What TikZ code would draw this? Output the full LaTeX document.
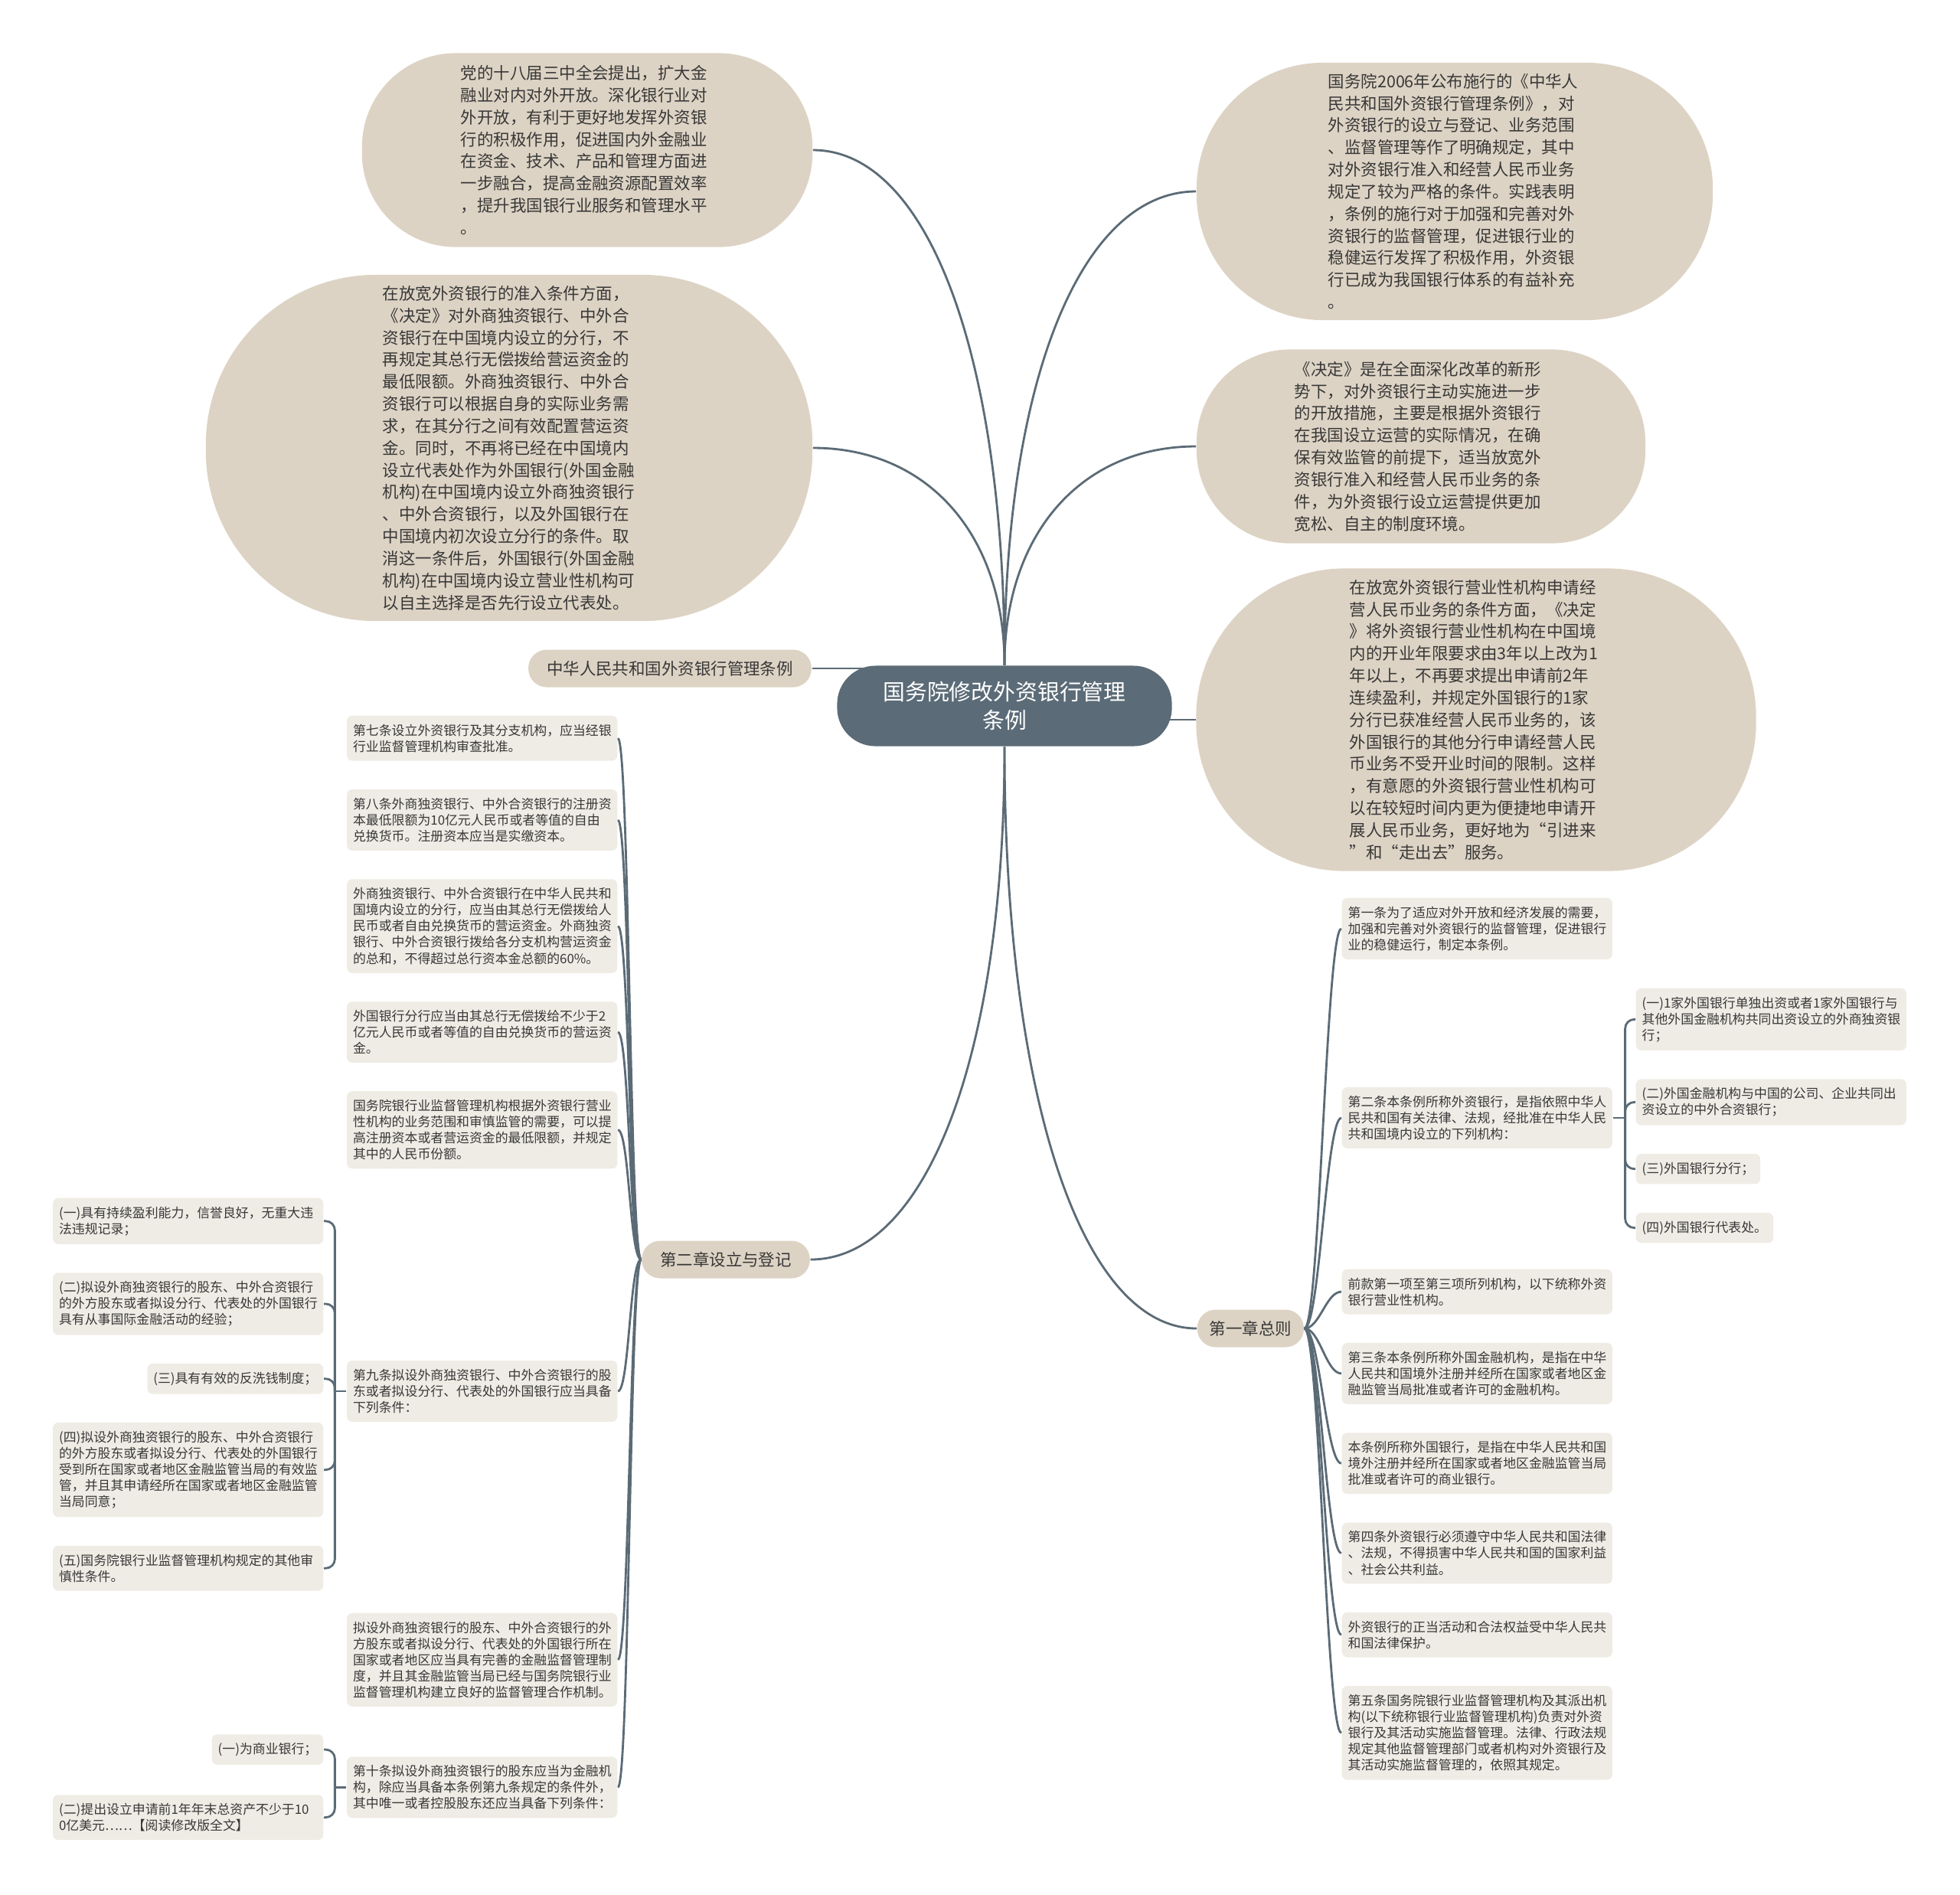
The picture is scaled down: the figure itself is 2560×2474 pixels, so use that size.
\documentclass[tikz,border=0pt]{standalone}
\usepackage{fontspec}
\setmainfont{Noto Sans CJK SC}
\usepackage{tikz}
\usetikzlibrary{positioning, calc, backgrounds}
\definecolor{hubbg}{HTML}{5B6B77}
\definecolor{bubblebg}{HTML}{DDD3C4}
\definecolor{leafbg}{HTML}{EFECE5}
\definecolor{wirec}{HTML}{5B6B76}
\definecolor{ink}{HTML}{383838}
\tikzset{
    hub/.style={rectangle, fill=hubbg, text=white, align=center, rounded corners=0.5cm, minimum width=4.37cm, minimum height=1.05cm, font=\fontsize{8.2pt}{10.7pt}\selectfont},
    bubble/.style={rectangle, fill=bubblebg, text=ink, align=left, text width=3.3cm, inner sep=0pt, font=\fontsize{6.1pt}{8.2pt}\selectfont},
    topic/.style={rectangle, fill=bubblebg, text=ink, rounded corners=0.24cm, inner xsep=0.24cm, inner ysep=0pt, minimum height=0.49cm, font=\fontsize{6.1pt}{8.2pt}\selectfont},
    leaf/.style={rectangle, fill=leafbg, text=ink, align=left, rounded corners=0.07cm, inner xsep=0.08cm, inner ysep=0.11cm, font=\fontsize{4.8pt}{6pt}\selectfont},
    fullw/.style={text width=3.37cm},
    wire/.style={draw=wirec, line width=0.8pt},
    bough/.style={to path={.. controls ($(\tikztostart)!0.6!(\tikztostart |- \tikztotarget)$) and ($(\tikztotarget)!0.6!(\tikztostart |- \tikztotarget)$) .. (\tikztotarget)}},
    twigl/.style={out=180, in=0, distance=0.15cm},
    twigr/.style={out=0, in=180, distance=0.2cm}
}

\begin{document}
\begin{tikzpicture}[x=0.01cm, y=-0.01cm]
    \useasboundingbox (0,0) rectangle (2560,2474);

    % Central topic
    \node [hub] (root) at (1312,922) {国务院修改外资银行管理\\条例};

    % Bubbles
    \node [bubble, minimum width=5.88cm, minimum height=2.53cm, rounded corners=1.22cm] (tl1) at (767,196) {党的十八届三中全会提出，扩大金\\融业对内对外开放。深化银行业对\\外开放，有利于更好地发挥外资银\\行的积极作用，促进国内外金融业\\在资金、技术、产品和管理方面进\\一步融合，提高金融资源配置效率\\，提升我国银行业服务和管理水平\\。};
    \node [bubble, minimum width=7.92cm, minimum height=4.52cm, rounded corners=2.22cm] (tl2) at (665,585) {在放宽外资银行的准入条件方面，\\《决定》对外商独资银行、中外合\\资银行在中国境内设立的分行，不\\再规定其总行无偿拨给营运资金的\\最低限额。外商独资银行、中外合\\资银行可以根据自身的实际业务需\\求，在其分行之间有效配置营运资\\金。同时，不再将已经在中国境内\\设立代表处作为外国银行(外国金融\\机构)在中国境内设立外商独资银行\\、中外合资银行，以及外国银行在\\中国境内初次设立分行的条件。取\\消这一条件后，外国银行(外国金融\\机构)在中国境内设立营业性机构可\\以自主选择是否先行设立代表处。};
    \node [bubble, minimum width=6.74cm, minimum height=3.36cm, rounded corners=1.65cm] (tr1) at (1900,250) {国务院2006年公布施行的《中华人\\民共和国外资银行管理条例》，对\\外资银行的设立与登记、业务范围\\、监督管理等作了明确规定，其中\\对外资银行准入和经营人民币业务\\规定了较为严格的条件。实践表明\\，条例的施行对于加强和完善对外\\资银行的监督管理，促进银行业的\\稳健运行发挥了积极作用，外资银\\行已成为我国银行体系的有益补充\\。};
    \node [bubble, minimum width=5.86cm, minimum height=2.53cm, rounded corners=1.22cm] (tr2) at (1856,583) {《决定》是在全面深化改革的新形\\势下，对外资银行主动实施进一步\\的开放措施，主要是根据外资银行\\在我国设立运营的实际情况，在确\\保有效监管的前提下，适当放宽外\\资银行准入和经营人民币业务的条\\件，为外资银行设立运营提供更加\\宽松、自主的制度环境。};
    \node [bubble, minimum width=7.31cm, minimum height=3.95cm, rounded corners=1.94cm] (tr3) at (1928,940) {在放宽外资银行营业性机构申请经\\营人民币业务的条件方面，《决定\\》将外资银行营业性机构在中国境\\内的开业年限要求由3年以上改为1\\年以上，不再要求提出申请前2年\\连续盈利，并规定外国银行的1家\\分行已获准经营人民币业务的，该\\外国银行的其他分行申请经营人民\\币业务不受开业时间的限制。这样\\，有意愿的外资银行营业性机构可\\以在较短时间内更为便捷地申请开\\展人民币业务，更好地为“引进来\\”和“走出去”服务。};

    % Chapters
    \node [topic] (zh) at (875,873) {中华人民共和国外资银行管理条例};
    \node [topic] (sec2) at (948,1645) {第二章设立与登记};
    \node [topic, anchor=west, inner xsep=0.16cm] (sec1) at (1563,1735) {第一章总则};

    % Chapter 2 articles
    \node [leaf, fullw, anchor=north east] (L1) at (807,934) {第七条设立外资银行及其分支机构，应当经银\\行业监督管理机构审查批准。};
    \node [leaf, fullw, below=0.36cm of L1] (L2) {第八条外商独资银行、中外合资银行的注册资\\本最低限额为10亿元人民币或者等值的自由\\兑换货币。注册资本应当是实缴资本。};
    \node [leaf, fullw, below=0.36cm of L2] (L3) {外商独资银行、中外合资银行在中华人民共和\\国境内设立的分行，应当由其总行无偿拨给人\\民币或者自由兑换货币的营运资金。外商独资\\银行、中外合资银行拨给各分支机构营运资金\\的总和，不得超过总行资本金总额的60\%。};
    \node [leaf, fullw, below=0.36cm of L3] (L4) {外国银行分行应当由其总行无偿拨给不少于2\\亿元人民币或者等值的自由兑换货币的营运资\\金。};
    \node [leaf, fullw, below=0.36cm of L4] (L5) {国务院银行业监督管理机构根据外资银行营业\\性机构的业务范围和审慎监管的需要，可以提\\高注册资本或者营运资金的最低限额，并规定\\其中的人民币份额。};
    \node [leaf, fullw, anchor=east] (L6) at (807,1817) {第九条拟设外商独资银行、中外合资银行的股\\东或者拟设分行、代表处的外国银行应当具备\\下列条件：};
    \node [leaf, fullw, anchor=north east] (L7) at (807,2106) {拟设外商独资银行的股东、中外合资银行的外\\方股东或者拟设分行、代表处的外国银行所在\\国家或者地区应当具有完善的金融监督管理制\\度，并且其金融监管当局已经与国务院银行业\\监督管理机构建立良好的监督管理合作机制。};
    \node [leaf, fullw, below=0.64cm of L7] (L8) {第十条拟设外商独资银行的股东应当为金融机\\构，除应当具备本条例第九条规定的条件外，\\其中唯一或者控股股东还应当具备下列条件：};

    % Conditions of article 9
    \node [leaf, fullw, anchor=north east] (S1) at (423,1564) {(一)具有持续盈利能力，信誉良好，无重大违\\法违规记录；};
    \node [leaf, fullw, below=0.36cm of S1.south east, anchor=north east] (S2) {(二)拟设外商独资银行的股东、中外合资银行\\的外方股东或者拟设分行、代表处的外国银行\\具有从事国际金融活动的经验；};
    \node [leaf, below=0.36cm of S2.south east, anchor=north east] (S3) {(三)具有有效的反洗钱制度；};
    \node [leaf, fullw, below=0.36cm of S3.south east, anchor=north east] (S4) {(四)拟设外商独资银行的股东、中外合资银行\\的外方股东或者拟设分行、代表处的外国银行\\受到所在国家或者地区金融监管当局的有效监\\管，并且其申请经所在国家或者地区金融监管\\当局同意；};
    \node [leaf, fullw, below=0.36cm of S4.south east, anchor=north east] (S5) {(五)国务院银行业监督管理机构规定的其他审\\慎性条件。};

    % Conditions of article 10
    \node [leaf, anchor=east] (T1) at (423,2285) {(一)为商业银行；};
    \node [leaf, fullw, below=0.38cm of T1.south east, anchor=north east] (T2) {(二)提出设立申请前1年年末总资产不少于10\\0亿美元……【阅读修改版全文】};

    % Chapter 1 articles
    \node [leaf, fullw, anchor=north west] (R1) at (1752,1172) {第一条为了适应对外开放和经济发展的需要，\\加强和完善对外资银行的监督管理，促进银行\\业的稳健运行，制定本条例。};
    \node [leaf, fullw, anchor=west] (R2) at (1752,1460) {第二条本条例所称外资银行，是指依照中华人\\民共和国有关法律、法规，经批准在中华人民\\共和国境内设立的下列机构：};
    \node [leaf, fullw, anchor=north west] (R3) at (1752,1657) {前款第一项至第三项所列机构，以下统称外资\\银行营业性机构。};
    \node [leaf, fullw, below=0.36cm of R3] (R4) {第三条本条例所称外国金融机构，是指在中华\\人民共和国境外注册并经所在国家或者地区金\\融监管当局批准或者许可的金融机构。};
    \node [leaf, fullw, below=0.36cm of R4] (R5) {本条例所称外国银行，是指在中华人民共和国\\境外注册并经所在国家或者地区金融监管当局\\批准或者许可的商业银行。};
    \node [leaf, fullw, below=0.36cm of R5] (R6) {第四条外资银行必须遵守中华人民共和国法律\\、法规，不得损害中华人民共和国的国家利益\\、社会公共利益。};
    \node [leaf, fullw, below=0.36cm of R6] (R7) {外资银行的正当活动和合法权益受中华人民共\\和国法律保护。};
    \node [leaf, fullw, below=0.36cm of R7] (R8) {第五条国务院银行业监督管理机构及其派出机\\构(以下统称银行业监督管理机构)负责对外资\\银行及其活动实施监督管理。法律、行政法规\\规定其他监督管理部门或者机构对外资银行及\\其活动实施监督管理的，依照其规定。};

    % Institutions of article 2
    \node [leaf, fullw, anchor=north west] (Q1) at (2136,1290) {(一)1家外国银行单独出资或者1家外国银行与\\其他外国金融机构共同出资设立的外商独资银\\行；};
    \node [leaf, fullw, below=0.36cm of Q1.south west, anchor=north west] (Q2) {(二)外国金融机构与中国的公司、企业共同出\\资设立的中外合资银行；};
    \node [leaf, below=0.36cm of Q2.south west, anchor=north west] (Q3) {(三)外国银行分行；};
    \node [leaf, below=0.36cm of Q3.south west, anchor=north west] (Q4) {(四)外国银行代表处。};

    % Junctions
    \coordinate (j9) at ([xshift=-0.15cm]L6.west);
    \coordinate (j10) at ([xshift=-0.15cm]L8.west);
    \coordinate (j2) at ([xshift=0.16cm]R2.east);

    % Connectors
    \begin{scope}[on background layer]
        \draw [wire] (root.north) to[bough] (tl1.east);
        \draw [wire] (root.north) to[bough] (tl2.east);
        \draw [wire] (root.north) to[bough] (tr1.west);
        \draw [wire] (root.north) to[bough] (tr2.west);
        \draw [wire] (tr3.west) -- (tr3.west -| root.center);
        \draw [wire] (zh.east) -- (zh.east -| root.center);
        \draw [wire] (root.south) to[bough] (sec2.east);
        \draw [wire] (root.south) to[bough] (sec1.west);

        \draw [wire] (sec2.west) to[twigl] (L1.east);
        \draw [wire] (sec2.west) to[twigl] (L2.east);
        \draw [wire] (sec2.west) to[twigl] (L3.east);
        \draw [wire] (sec2.west) to[twigl] (L4.east);
        \draw [wire] (sec2.west) to[twigl] (L5.east);
        \draw [wire] (sec2.west) to[twigl] (L6.east);
        \draw [wire] (sec2.west) to[twigl] (L7.east);
        \draw [wire] (sec2.west) to[twigl] (L8.east);

        \draw [wire] (sec1.east) to[twigr] (R1.west);
        \draw [wire] (sec1.east) to[twigr] (R2.west);
        \draw [wire] (sec1.east) to[twigr] (R3.west);
        \draw [wire] (sec1.east) to[twigr] (R4.west);
        \draw [wire] (sec1.east) to[twigr] (R5.west);
        \draw [wire] (sec1.east) to[twigr] (R6.west);
        \draw [wire] (sec1.east) to[twigr] (R7.west);
        \draw [wire] (sec1.east) to[twigr] (R8.west);

        \draw [wire] (L6.west) -- (j9);
        \draw [wire, rounded corners=0.12cm] (j9) |- (S1.east);
        \draw [wire, rounded corners=0.12cm] (j9) |- (S2.east);
        \draw [wire, rounded corners=0.12cm] (j9) |- (S3.east);
        \draw [wire, rounded corners=0.12cm] (j9) |- (S4.east);
        \draw [wire, rounded corners=0.12cm] (j9) |- (S5.east);

        \draw [wire] (L8.west) -- (j10);
        \draw [wire, rounded corners=0.12cm] (j10) |- (T1.east);
        \draw [wire, rounded corners=0.12cm] (j10) |- (T2.east);

        \draw [wire] (R2.east) -- (j2);
        \draw [wire, rounded corners=0.12cm] (j2) |- (Q1.west);
        \draw [wire, rounded corners=0.12cm] (j2) |- (Q2.west);
        \draw [wire, rounded corners=0.12cm] (j2) |- (Q3.west);
        \draw [wire, rounded corners=0.12cm] (j2) |- (Q4.west);
    \end{scope}
\end{tikzpicture}
\end{document}
